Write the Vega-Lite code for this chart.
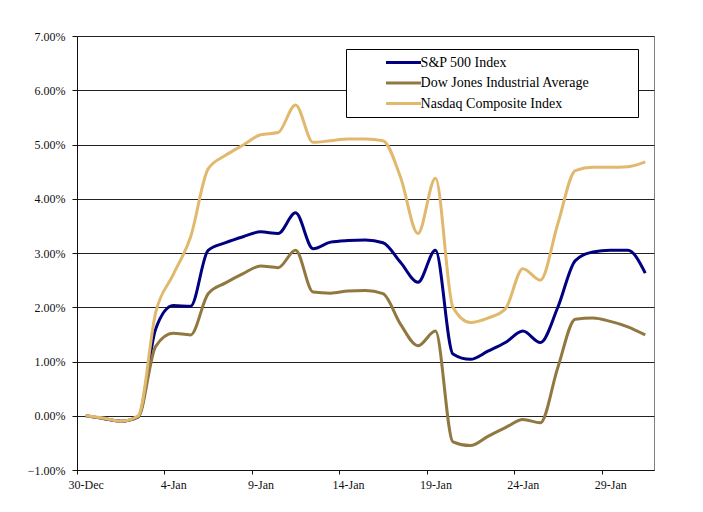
{
  "$schema": "https://vega.github.io/schema/vega-lite/v6.json",
  "width": 577,
  "height": 434,
  "autosize": {"type": "none"},
  "padding": {"left": 77, "top": 36, "right": 49, "bottom": 42},
  "background": "white",
  "config": {
    "view": {"stroke": "#808080", "strokeWidth": 1},
    "font": "Liberation Serif",
    "axis": {"labelFont": "Liberation Serif", "labelFontSize": 12, "labelColor": "#111", "domainColor": "#111", "tickColor": "#111", "title": null}
  },
  "data": {
    "values": [
      {"date": "2007-12-30", "S": 0.00, "D": 0.00, "N": 0.00},
      {"date": "2007-12-31", "S": -0.05, "D": -0.05, "N": -0.04},
      {"date": "2008-01-01", "S": -0.10, "D": -0.10, "N": -0.10},
      {"date": "2008-01-02", "S": -0.02, "D": -0.02, "N": 0.00},
      {"date": "2008-01-03", "S": 1.60, "D": 1.28, "N": 1.90},
      {"date": "2008-01-04", "S": 2.03, "D": 1.52, "N": 2.60},
      {"date": "2008-01-05", "S": 2.02, "D": 1.49, "N": 3.30},
      {"date": "2008-01-06", "S": 3.05, "D": 2.25, "N": 4.55},
      {"date": "2008-01-07", "S": 3.19, "D": 2.45, "N": 4.80},
      {"date": "2008-01-08", "S": 3.30, "D": 2.62, "N": 4.99},
      {"date": "2008-01-09", "S": 3.39, "D": 2.76, "N": 5.18},
      {"date": "2008-01-10", "S": 3.36, "D": 2.73, "N": 5.22},
      {"date": "2008-01-11", "S": 3.74, "D": 3.05, "N": 5.73},
      {"date": "2008-01-12", "S": 3.08, "D": 2.28, "N": 5.04},
      {"date": "2008-01-13", "S": 3.20, "D": 2.26, "N": 5.07},
      {"date": "2008-01-14", "S": 3.23, "D": 2.30, "N": 5.10},
      {"date": "2008-01-15", "S": 3.24, "D": 2.31, "N": 5.10},
      {"date": "2008-01-16", "S": 3.19, "D": 2.25, "N": 5.07},
      {"date": "2008-01-17", "S": 2.83, "D": 1.69, "N": 4.40},
      {"date": "2008-01-18", "S": 2.46, "D": 1.29, "N": 3.36},
      {"date": "2008-01-19", "S": 3.05, "D": 1.56, "N": 4.38},
      {"date": "2008-01-20", "S": 1.14, "D": -0.48, "N": 2.00},
      {"date": "2008-01-21", "S": 1.04, "D": -0.55, "N": 1.72},
      {"date": "2008-01-22", "S": 1.19, "D": -0.38, "N": 1.80},
      {"date": "2008-01-23", "S": 1.35, "D": -0.22, "N": 1.97},
      {"date": "2008-01-24", "S": 1.56, "D": -0.07, "N": 2.71},
      {"date": "2008-01-25", "S": 1.35, "D": -0.13, "N": 2.50},
      {"date": "2008-01-26", "S": 2.00, "D": 0.89, "N": 3.54},
      {"date": "2008-01-27", "S": 2.86, "D": 1.78, "N": 4.52},
      {"date": "2008-01-28", "S": 3.02, "D": 1.80, "N": 4.58},
      {"date": "2008-01-29", "S": 3.05, "D": 1.74, "N": 4.58},
      {"date": "2008-01-30", "S": 3.05, "D": 1.64, "N": 4.59},
      {"date": "2008-01-31", "S": 2.63, "D": 1.49, "N": 4.68}
    ]
  },
  "transform": [
    {"fold": ["S", "D", "N"], "as": ["key", "value"]},
    {"lookup": "key", "from": {"data": {"values": [
      {"key": "S", "series": "S&P 500 Index"},
      {"key": "D", "series": "Dow Jones Industrial Average"},
      {"key": "N", "series": "Nasdaq Composite Index"}
    ]}, "key": "key", "fields": ["series"]}}
  ],
  "mark": {"type": "line", "interpolate": "monotone", "strokeWidth": 3, "clip": false},
  "encoding": {
    "x": {
      "field": "date", "type": "temporal",
      "scale": {"type": "utc", "domain": [
        {"year": 2007, "month": 12, "date": 29, "hours": 12, "utc": true},
        {"year": 2008, "month": 1, "date": 31, "hours": 12, "utc": true}
      ]},
      "axis": {
        "values": [
          {"year": 2007, "month": 12, "date": 30, "utc": true},
          {"year": 2008, "month": 1, "date": 4, "utc": true},
          {"year": 2008, "month": 1, "date": 9, "utc": true},
          {"year": 2008, "month": 1, "date": 14, "utc": true},
          {"year": 2008, "month": 1, "date": 19, "utc": true},
          {"year": 2008, "month": 1, "date": 24, "utc": true},
          {"year": 2008, "month": 1, "date": 29, "utc": true}
        ],
        "format": "%-d-%b",
        "grid": false,
        "tickSize": 4,
        "tickOffset": -8.74,
        "labelOffset": 8.74,
        "labelPadding": 5,
        "labelFlush": false,
        "labelOverlap": false
      }
    },
    "y": {
      "field": "value", "type": "quantitative",
      "scale": {"domain": [-1, 7], "nice": false, "zero": false},
      "axis": {
        "values": [-1, 0, 1, 2, 3, 4, 5, 6, 7],
        "labelExpr": "format(datum.value, '.2f') + '%'",
        "grid": true, "gridColor": "#222", "gridWidth": 1, "gridOpacity": 1,
        "tickSize": 5, "labelPadding": 7
      }
    },
    "color": {
      "field": "series", "type": "nominal",
      "scale": {
        "domain": ["S&P 500 Index", "Dow Jones Industrial Average", "Nasdaq Composite Index"],
        "range": ["#000080", "#917841", "#E1B96E"]
      },
      "legend": {
        "title": null,
        "orient": "none",
        "legendX": 269,
        "legendY": 13,
        "strokeColor": "#000",
        "fillColor": "white",
        "padding": 6,
        "symbolType": "M-3,0H3",
        "symbolSize": 136,
        "symbolStrokeWidth": 3,
        "symbolOffset": 44,
        "labelOffset": 9.6,
        "labelFont": "Liberation Serif",
        "labelFontSize": 14,
        "labelColor": "#000",
        "labelLimit": 400,
        "rowPadding": 5.5,
        "labelExpr": "datum.label + '\u00a0\u00a0\u00a0\u00a0\u00a0\u00a0\u00a0\u00a0\u00a0\u00a0\u00a0\u00a0\u200b'"
      }
    }
  }
}
